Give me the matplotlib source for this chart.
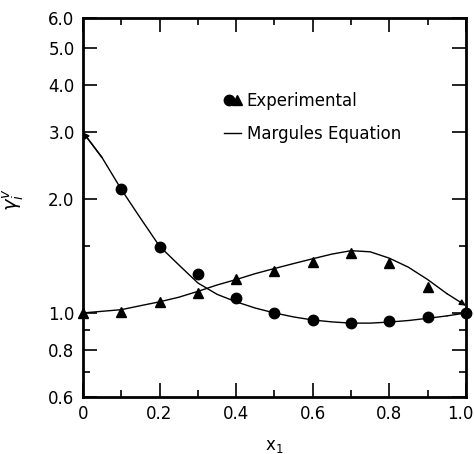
import matplotlib
matplotlib.use("Agg")
import matplotlib.pyplot as plt
import matplotlib.transforms as mtransforms
from matplotlib.lines import Line2D
from matplotlib.legend_handler import HandlerTuple
from matplotlib.ticker import FixedLocator, FixedFormatter, NullFormatter

plt.rcParams["font.family"] = "DejaVu Sans"

# experimental activity coefficients
x_exp = [0.0, 0.1, 0.2, 0.3, 0.4, 0.5, 0.6, 0.7, 0.8, 0.9, 1.0]
gamma1_exp = [None, 2.13, 1.49, 1.27, 1.095, 1.0, 0.96, 0.94, 0.95, 0.975, 1.0]
gamma2_exp = [1.0, 1.005, 1.07, 1.13, 1.23, 1.29, 1.36, 1.44, 1.355, 1.17, None]

# Margules fit curves
x_fit = [0.0, 0.05, 0.1, 0.15, 0.2, 0.25, 0.3, 0.35, 0.4, 0.45, 0.5,
         0.55, 0.6, 0.65, 0.7, 0.75, 0.8, 0.85, 0.9, 0.95, 1.0]
gamma1_fit = [3.0, 2.57, 2.12, 1.78, 1.50, 1.34, 1.20, 1.12, 1.07, 1.03, 1.0,
              0.976, 0.958, 0.947, 0.94, 0.94, 0.946, 0.955, 0.968, 0.982, 1.0]
gamma2_fit = [1.0, 1.01, 1.02, 1.045, 1.07, 1.1, 1.14, 1.185, 1.225, 1.27, 1.31,
              1.35, 1.39, 1.43, 1.46, 1.45, 1.395, 1.32, 1.225, 1.125, 1.045]

y_major = [0.6, 0.8, 1.0, 2.0, 3.0, 4.0, 5.0, 6.0]
y_minor = [0.7, 0.9, 1.5]
x_major = [0.0, 0.2, 0.4, 0.6, 0.8, 1.0]
x_minor = [0.1, 0.3, 0.5, 0.7, 0.9]

fig = plt.figure(figsize=(4.74, 4.54), dpi=100)
ax = fig.add_axes([0.175, 0.1256, 0.808, 0.8344])

ax.plot(x_fit[:-1], gamma1_fit[:-1], color="black", lw=1.0)
ax.plot(x_fit[:-1], gamma2_fit[:-1], color="black", lw=1.0)
# small arrowheads at the curve ends
ax.annotate("", xy=(x_fit[0], gamma1_fit[0]), xytext=(x_fit[1], gamma1_fit[1]),
            arrowprops=dict(arrowstyle="-|>", color="black", lw=1.0,
                            mutation_scale=9, shrinkA=0, shrinkB=0))
ax.annotate("", xy=(x_fit[-1], gamma2_fit[-1]), xytext=(x_fit[-2], gamma2_fit[-2]),
            arrowprops=dict(arrowstyle="-|>", color="black", lw=1.0,
                            mutation_scale=9, shrinkA=0, shrinkB=0))
ax.annotate("", xy=(x_fit[-1], gamma1_fit[-1]), xytext=(x_fit[-2], gamma1_fit[-2]),
            arrowprops=dict(arrowstyle="-", color="black", lw=1.0,
                            shrinkA=0, shrinkB=0))

x1 = [x for x, g in zip(x_exp, gamma1_exp) if g is not None]
g1 = [g for g in gamma1_exp if g is not None]
x2 = [x for x, g in zip(x_exp, gamma2_exp) if g is not None]
g2 = [g for g in gamma2_exp if g is not None]
ax.plot(x1, g1, "o", color="black", ms=7.5, clip_on=False, zorder=5)
ax.plot(x2, g2, "^", color="black", ms=7.5, clip_on=False, zorder=5)

ax.set_yscale("log")
ax.set_xlim(0, 1.0)
ax.set_ylim(0.6, 6.0)

ax.yaxis.set_major_locator(FixedLocator(y_major))
ax.yaxis.set_major_formatter(FixedFormatter(["%.1f" % v for v in y_major]))
ax.yaxis.set_minor_locator(FixedLocator(y_minor))
ax.yaxis.set_minor_formatter(NullFormatter())
ax.xaxis.set_major_locator(FixedLocator(x_major))
ax.xaxis.set_major_formatter(FixedFormatter(["0", "0.2", "0.4", "0.6", "0.8", "1.0"]))
ax.xaxis.set_minor_locator(FixedLocator(x_minor))

ax.tick_params(which="both", direction="in", top=True, right=True, width=1.2,
               labelsize=12, pad=6)
ax.tick_params(which="major", length=10)
ax.tick_params(which="minor", length=5)
for sp in ax.spines.values():
    sp.set_linewidth(2.0)

# keep the last x tick label inside the figure
fig.canvas.draw()
last = ax.get_xticklabels()[-1]
last.set_transform(last.get_transform() +
                   mtransforms.ScaledTranslation(-6 / 100, 0, fig.dpi_scale_trans))

ax.set_xlabel("$\\mathregular{x_1}$", fontsize=12, labelpad=10)
ax.set_ylabel("$\\gamma_i^v$", fontsize=14, rotation=90)
ax.yaxis.set_label_coords(-0.15, 0.52)

h_circle = Line2D([], [], marker="o", ls="none", color="black", ms=7.5)
h_tri = Line2D([], [], marker="^", ls="none", color="black", ms=7.5)
h_line = Line2D([], [], color="black", lw=1.0)
ax.legend([(h_circle, h_tri), h_line], ["Experimental", "Margules Equation"],
          handler_map={tuple: HandlerTuple(ndivide=None, pad=0)},
          frameon=False, fontsize=12, handlelength=1.0, handletextpad=0.35,
          labelspacing=0.9, loc="upper left", bbox_to_anchor=(0.33, 0.845))

fig.savefig("out.png", dpi=100)
